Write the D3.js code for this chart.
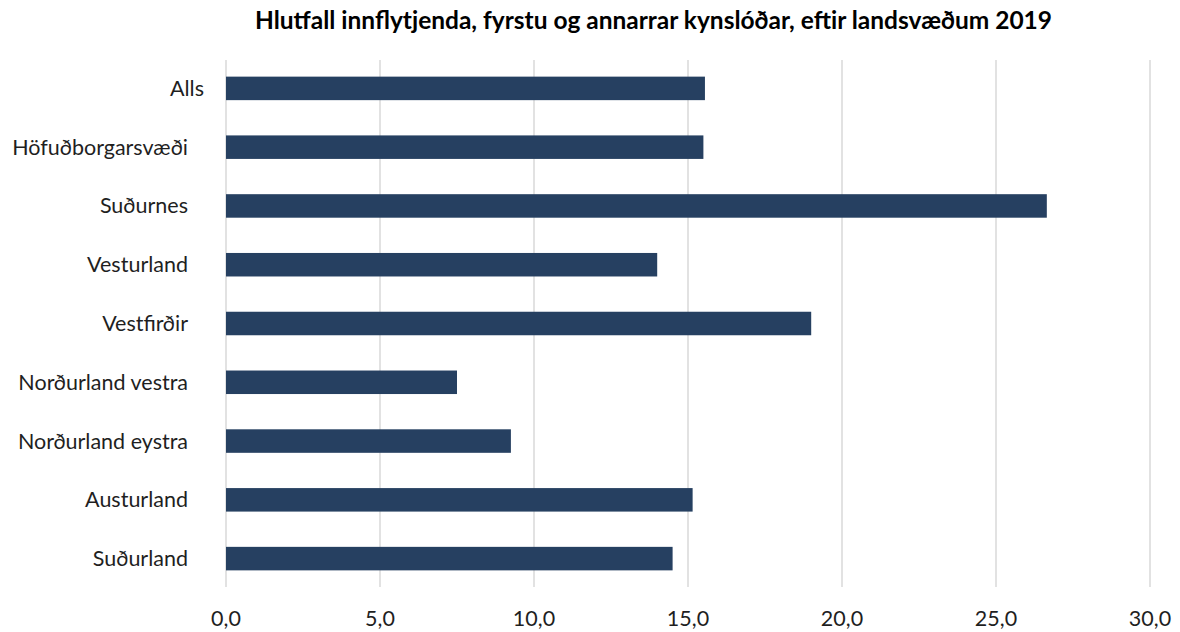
<!DOCTYPE html>
<html><head><meta charset="utf-8">
<script src="https://cdn.jsdelivr.net/npm/d3@7"></script>
<style>body{margin:0;background:#fff}svg{display:block}</style>
</head><body>
<svg id="c" width="1180" height="632"></svg>
<script>
const title = "Hlutfall innflytjenda, fyrstu og annarrar kynslóðar, eftir landsvæðum 2019";
const categories = ["Alls","Höfuðborgarsvæði","Suðurnes","Vesturland","Vestfirðir","Norðurland vestra","Norðurland eystra","Austurland","Suðurland"];
const values = [15.55,15.5,26.65,14.0,19.0,7.5,9.25,15.15,14.5];
const ticks = [0,5,10,15,20,25,30];

const svg = d3.select("#c");
const font = "Lato, 'Open Sans', sans-serif";
const x = d3.scaleLinear().domain([0,30]).range([226,1150]);
const y = d3.scaleBand().domain(categories).range([59,588]).paddingInner(0.6).paddingOuter(0.3);

svg.append("g").selectAll("line").data(ticks).join("line")
  .attr("x1",d=>x(d)).attr("x2",d=>x(d)).attr("y1",60).attr("y2",587)
  .attr("stroke","#d9d9d9").attr("stroke-width",1.5);

svg.append("g").selectAll("rect").data(values).join("rect")
  .attr("x",x(0)).attr("y",(d,i)=>y(categories[i]))
  .attr("width",d=>x(d)-x(0)).attr("height",y.bandwidth())
  .attr("fill","#264061");

svg.append("g").selectAll("text").data(categories).join("text")
  .attr("x",(d,i)=>i===0?204:188).attr("y",d=>y(d)+y.bandwidth()/2).attr("dy","0.35em")
  .attr("text-anchor","end").attr("font-family",font).attr("font-size",21.5).attr("fill","#1f1f1f")
  .text(d=>d);

const fmt = d=>d3.format(".1f")(d).replace(".",",");
svg.append("g").selectAll("text").data(ticks).join("text")
  .attr("x",d=>x(d)).attr("y",618).attr("dy","0.35em").attr("text-anchor","middle")
  .attr("font-family",font).attr("font-size",21.5).attr("fill","#1f1f1f").text(fmt);

svg.append("text").attr("x",653.5).attr("y",21).attr("dy","0.35em").attr("text-anchor","middle")
  .attr("font-family",font).attr("font-size",24).attr("font-weight","bold").attr("fill","#000")
  .attr("textLength",797).attr("lengthAdjust","spacingAndGlyphs")
  .text(title);
</script>
</body></html>
